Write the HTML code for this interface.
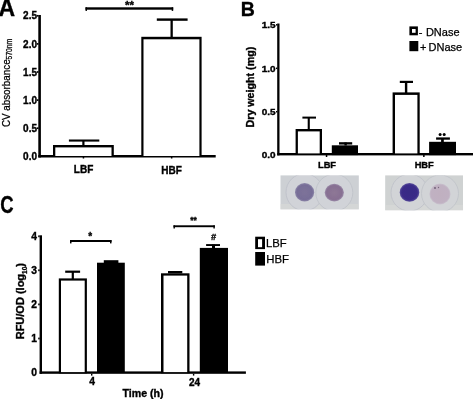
<!DOCTYPE html>
<html><head><meta charset="utf-8"><style>
html,body{margin:0;padding:0;background:#fff;width:473px;height:399px;overflow:hidden}
svg{display:block;will-change:transform;font-family:"Liberation Sans",sans-serif}
.b{font-weight:bold;stroke:#000;stroke-width:0.35}
.r{stroke:#000;stroke-width:0.25}
</style></head><body>
<svg width="473" height="399" viewBox="0 0 473 399">
<rect width="473" height="399" fill="#fff"/>
<defs>
<radialGradient id="wellA" cx="50%" cy="50%" r="50%">
<stop offset="0" stop-color="#7d7399"/><stop offset="0.8" stop-color="#776d97"/><stop offset="1" stop-color="#8c86a8"/>
</radialGradient>
<radialGradient id="wellB" cx="50%" cy="50%" r="50%">
<stop offset="0" stop-color="#8e7896"/><stop offset="0.8" stop-color="#876f92"/><stop offset="1" stop-color="#9b8ca9"/>
</radialGradient>
<radialGradient id="wellC" cx="50%" cy="50%" r="50%">
<stop offset="0" stop-color="#382a84"/><stop offset="0.8" stop-color="#3a2c88"/><stop offset="1" stop-color="#5a4f9c"/>
</radialGradient>
<radialGradient id="wellD" cx="50%" cy="50%" r="50%">
<stop offset="0" stop-color="#c0b0c0"/><stop offset="0.85" stop-color="#c0b1c2"/><stop offset="1" stop-color="#c9c2ce"/>
</radialGradient>
<clipPath id="p1"><rect x="280.3" y="175.2" width="78.6" height="34.4"/></clipPath>
<clipPath id="p2"><rect x="385.1" y="175.2" width="78" height="35.2"/></clipPath>
<filter id="soft" x="-5%" y="-5%" width="110%" height="110%"><feGaussianBlur stdDeviation="0.6"/></filter>
</defs>

<!-- ===== Panel A ===== -->
<text class="b" x="-1.5" y="15.5" font-size="23" stroke="#000" stroke-width="0.7">A</text>
<!-- significance -->
<rect x="85.5" y="7.3" width="87.7" height="2.4" fill="#000"/>
<rect x="85.5" y="7.3" width="1.5" height="3.6" fill="#000"/>
<rect x="171.7" y="7.3" width="1.5" height="3.6" fill="#000"/>
<text class="b" x="129.4" y="8.6" font-size="11.5" text-anchor="middle">**</text>
<!-- axes -->
<rect x="38.3" y="15" width="2.6" height="142.5" fill="#000"/>
<rect x="38.3" y="155" width="177.4" height="2.5" fill="#000"/>
<g fill="#000">
<rect x="36.9" y="14.95" width="1.6" height="1.7"/>
<rect x="36.9" y="43.05" width="1.6" height="1.7"/>
<rect x="36.9" y="71.15" width="1.6" height="1.7"/>
<rect x="36.9" y="99.25" width="1.6" height="1.7"/>
<rect x="36.9" y="127.35" width="1.6" height="1.7"/>
</g>
<g class="b" font-size="10" text-anchor="end">
<text x="37" y="19.4">2.5</text>
<text x="37" y="47.5">2.0</text>
<text x="37" y="75.6">1.5</text>
<text x="37" y="103.7">1.0</text>
<text x="37" y="131.8">0.5</text>
<text x="37" y="159.9">0.0</text>
</g>
<!-- bars -->
<rect x="53" y="145" width="60.8" height="12" fill="#000"/>
<rect x="55.3" y="147.4" width="56.2" height="8.6" fill="#fff"/>
<rect x="68.9" y="139.5" width="30.4" height="2.1" fill="#000"/>
<rect x="82.3" y="140" width="2.2" height="6" fill="#000"/>
<rect x="141.3" y="36.8" width="60.3" height="120" fill="#000"/>
<rect x="143.5" y="39.3" width="55.9" height="116.7" fill="#fff"/>
<rect x="156.8" y="18.4" width="30.8" height="2.4" fill="#000"/>
<rect x="170.5" y="19.5" width="2.3" height="18.5" fill="#000"/>
<rect x="82.7" y="157" width="1.5" height="1.5" fill="#000"/>
<rect x="170.9" y="157" width="1.5" height="1.5" fill="#000"/>
<g class="b" font-size="10" text-anchor="middle">
<text x="83.6" y="173.4">LBF</text>
<text x="171.6" y="174">HBF</text>
</g>
<text class="r" stroke-width="0.4" transform="translate(10.1,127.1) rotate(-90) scale(0.945,1)" font-size="10.4">CV absorbance</text>
<text class="r" stroke-width="0.35" transform="translate(11.6,59.4) rotate(-90) scale(0.82,1)" font-size="8.2">570nm</text>

<!-- ===== Panel B ===== -->
<text class="b" x="240.8" y="15.9" font-size="19.5" stroke="#000" stroke-width="0.25">B</text>
<rect x="277.2" y="23.5" width="2.3" height="131.9" fill="#000"/>
<rect x="277.2" y="153" width="195.8" height="2.4" fill="#000"/>
<g fill="#000">
<rect x="276" y="24.05" width="1.4" height="1.5"/>
<rect x="276" y="67.55" width="1.4" height="1.5"/>
<rect x="276" y="110.95" width="1.4" height="1.5"/>
</g>
<g class="b" font-size="8.7" text-anchor="end" transform="translate(275.6,0) scale(1.15,1) translate(-275.6,0)">
<text x="275.6" y="27.9">1.5</text>
<text x="275.6" y="71.6">1.0</text>
<text x="275.6" y="115">0.5</text>
<text x="275.6" y="157.6">0.0</text>
</g>
<!-- bars B -->
<rect x="295.6" y="129" width="26.4" height="26" fill="#000"/>
<rect x="297.9" y="131.4" width="21.8" height="22" fill="#fff"/>
<rect x="302.4" y="116.6" width="13.6" height="2" fill="#000"/>
<rect x="307.7" y="117" width="2.1" height="13" fill="#000"/>
<rect x="331.8" y="145.3" width="26.2" height="9.8" fill="#000"/>
<rect x="339" y="142.2" width="13.2" height="1.9" fill="#000"/>
<rect x="339" y="144.1" width="13.2" height="1.3" fill="#666"/>
<rect x="344.4" y="142.5" width="2.4" height="3" fill="#000"/>
<rect x="392.6" y="92.4" width="27.1" height="62" fill="#000"/>
<rect x="395" y="94.9" width="22.4" height="58.5" fill="#fff"/>
<rect x="399.8" y="80.8" width="13.2" height="2.2" fill="#000"/>
<rect x="404.9" y="81" width="2.4" height="12" fill="#000"/>
<rect x="429.1" y="141.8" width="26.9" height="13.3" fill="#000"/>
<rect x="436.1" y="137.4" width="13.8" height="2.3" fill="#000"/>
<rect x="441.1" y="138" width="2.7" height="4.5" fill="#000"/>
<circle cx="440.1" cy="134.5" r="1.5" fill="#000"/>
<circle cx="444.2" cy="134.5" r="1.5" fill="#000"/>
<rect x="325.8" y="155" width="1.5" height="2" fill="#000"/>
<rect x="423.1" y="155" width="1.5" height="2" fill="#000"/>
<g class="b" font-size="9.3" text-anchor="middle">
<text x="327" y="167.7">LBF</text>
<text x="424.2" y="167.8">HBF</text>
</g>
<text class="b" transform="translate(254.4,127.5) rotate(-90)" font-size="10.7">Dry weight (mg)</text>
<!-- legend B -->
<rect x="409.4" y="26.4" width="8.5" height="8.9" fill="#000"/>
<rect x="412" y="29" width="3.6" height="3.8" fill="#fff"/>
<text x="418.7" y="35.6" font-size="11" class="r">-</text><text x="425.9" y="35.6" font-size="11" class="r" stroke-width="0.4">DNase</text>
<rect x="409.4" y="41" width="8.9" height="10.2" fill="#000"/>
<text x="419.9" y="50.9" font-size="11" class="r">+</text><text x="428.5" y="50.9" font-size="11" class="r" stroke-width="0.4">DNase</text>
<!-- photos -->
<g clip-path="url(#p1)"><g filter="url(#soft)">
<rect x="280.3" y="175.2" width="78.6" height="34.4" fill="#cdd0d4"/>
<rect x="280.3" y="204" width="78.6" height="5.6" fill="#d4d6d6"/>
<circle cx="304.5" cy="192.2" r="18.5" fill="#d1d3d8" stroke="#bec1c9" stroke-width="0.9"/>
<circle cx="334.3" cy="192.6" r="18.5" fill="#d1d3d8" stroke="#c0c3ca" stroke-width="0.9"/>
<ellipse cx="304.6" cy="192.3" rx="9.6" ry="9.2" fill="url(#wellA)"/>
<ellipse cx="334.3" cy="192.6" rx="9.6" ry="8.8" fill="url(#wellB)"/>
</g></g>
<g clip-path="url(#p2)"><g filter="url(#soft)">
<rect x="385.1" y="175.2" width="78" height="35.2" fill="#cfd2d2"/>
<rect x="385.1" y="205" width="78" height="5.4" fill="#d5d7d6"/>
<circle cx="409.5" cy="192.6" r="18.5" fill="#d2d4d7" stroke="#bfc2c9" stroke-width="0.9"/>
<circle cx="440" cy="193.5" r="18.5" fill="#d2d4d7" stroke="#c1c4ca" stroke-width="0.9"/>
<ellipse cx="409.5" cy="192.4" rx="9.8" ry="9.3" fill="url(#wellC)"/>
<ellipse cx="440" cy="194" rx="10.6" ry="10.4" fill="url(#wellD)"/>
<circle cx="435" cy="188" r="0.9" fill="#6a5a70"/>
<circle cx="438.5" cy="187.5" r="0.7" fill="#7a6a80"/>
</g></g>

<!-- ===== Panel C ===== -->
<text class="b" font-size="23.9" stroke="#000" stroke-width="0.9" transform="translate(0.34,212.66) scale(0.775,1)">C</text>
<rect x="39.6" y="235.3" width="2.4" height="138.5" fill="#000"/>
<rect x="39.6" y="371.4" width="206.3" height="2.4" fill="#000"/>
<g fill="#000">
<rect x="38.2" y="235.4" width="1.5" height="1.8"/>
<rect x="38.2" y="269.4" width="1.5" height="1.8"/>
<rect x="38.2" y="303.5" width="1.5" height="1.8"/>
<rect x="38.2" y="337.6" width="1.5" height="1.8"/>
</g>
<g class="b" font-size="10.3" text-anchor="end">
<text x="36.9" y="240">4</text>
<text x="36.9" y="274">3</text>
<text x="36.9" y="308.1">2</text>
<text x="36.9" y="342.2">1</text>
<text x="36.9" y="376.2">0</text>
</g>
<!-- bars C -->
<rect x="58.8" y="278.4" width="28.1" height="95" fill="#000"/>
<rect x="61" y="280.6" width="23.7" height="91.5" fill="#fff"/>
<rect x="65.2" y="270.6" width="14.9" height="2.2" fill="#000"/>
<rect x="71.7" y="271" width="2.2" height="8" fill="#000"/>
<rect x="97" y="262.7" width="27.8" height="110" fill="#000"/>
<rect x="103.8" y="260.2" width="14.6" height="3" fill="#000"/>
<rect x="161" y="273.3" width="28.5" height="100" fill="#000"/>
<rect x="163.5" y="275.6" width="23.7" height="96.5" fill="#fff"/>
<rect x="168" y="271" width="14.3" height="2.4" fill="#000"/>
<rect x="199.8" y="247.9" width="28.2" height="125" fill="#000"/>
<rect x="206.1" y="244.1" width="13.9" height="1.9" fill="#000"/>
<rect x="212" y="244.5" width="3" height="4" fill="#000"/>
<!-- sig C -->
<rect x="70" y="240" width="41.5" height="2" fill="#000"/>
<rect x="70" y="240" width="1.5" height="3.4" fill="#000"/>
<rect x="110" y="240" width="1.5" height="3.4" fill="#000"/>
<text class="b" x="90.3" y="239.6" font-size="10" text-anchor="middle">*</text>
<rect x="173.5" y="225.3" width="41.3" height="1.9" fill="#000"/>
<rect x="173.5" y="225.3" width="1.4" height="3.2" fill="#000"/>
<rect x="213.4" y="225.3" width="1.4" height="3.2" fill="#000"/>
<text class="b" x="193.5" y="222.8" font-size="8.5" text-anchor="middle">**</text>
<text class="b" x="213.6" y="240.4" font-size="9" text-anchor="middle" font-style="italic" stroke-width="0.8">#</text>
<rect x="91" y="373.8" width="1.4" height="1.8" fill="#000"/>
<rect x="192.9" y="373.8" width="1.4" height="1.8" fill="#000"/>
<g class="b" text-anchor="middle">
<text x="92" y="385.4" font-size="10.3">4</text>
<text x="194.5" y="385.9" font-size="10">24</text>
<text x="143.1" y="396.8" font-size="10.6">Time (h)</text>
</g>
<text class="b" transform="translate(24,339.3) rotate(-90)" font-size="11">RFU/OD (log<tspan font-size="6.5" dy="2.5">10</tspan><tspan dy="-2.5">)</tspan></text>
<!-- legend C -->
<rect x="255.2" y="236.7" width="9.8" height="12.4" fill="#000"/>
<rect x="258" y="239.2" width="4.1" height="8" fill="#fff"/>
<text x="265.9" y="246.8" font-size="11.3" class="r">LBF</text>
<rect x="255.2" y="252" width="9.8" height="13.6" fill="#000"/>
<text x="266.3" y="262.5" font-size="11.4" class="r">HBF</text>
</svg>
</body></html>
